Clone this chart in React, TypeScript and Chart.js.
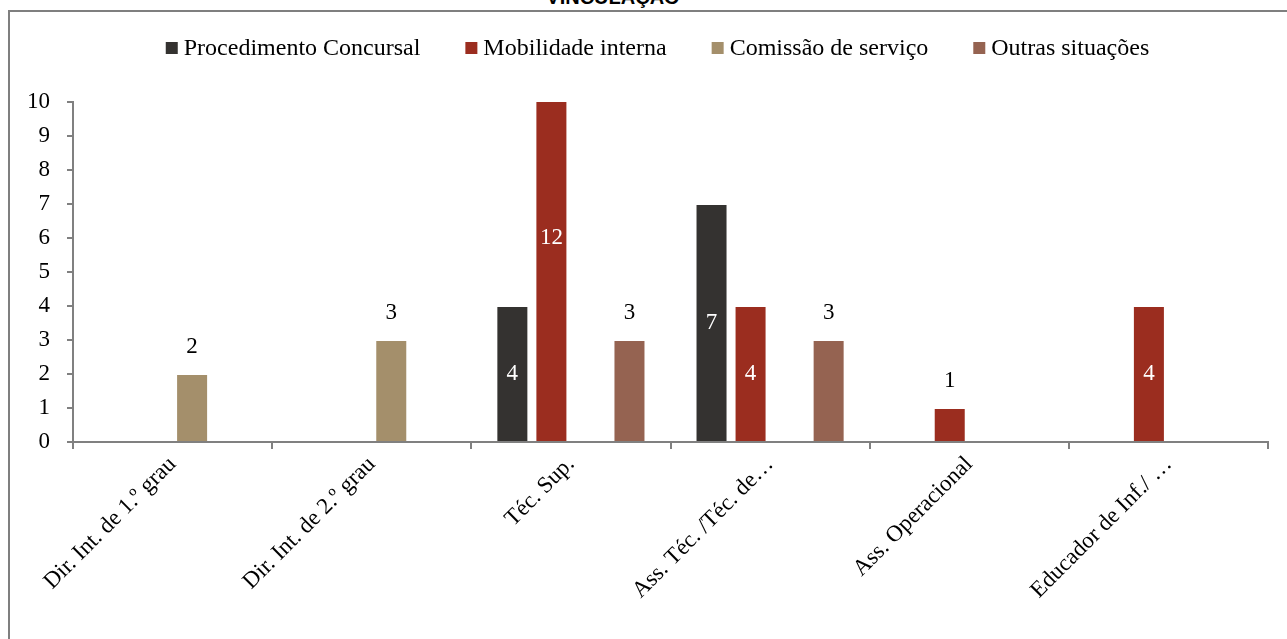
import React, { useEffect, useRef } from "react";
import { Chart, registerables } from "chart.js";

Chart.register(...registerables);

const categories = [
  "Dir. Int. de 1.º grau",
  "Dir. Int. de 2.º grau",
  "Téc. Sup.",
  "Ass. Téc. /Téc. de…",
  "Ass. Operacional",
  "Educador de Inf./ …",
];
const seriesNames = [
  "Procedimento Concursal",
  "Mobilidade interna",
  "Comissão de serviço",
  "Outras situações",
];
const procedimentoConcursal = [0, 0, 4, 7, 0, 0];
const mobilidadeInterna = [0, 0, 12, 4, 1, 4];
const comissaoServico = [2, 3, 0, 0, 0, 0];
const outrasSituacoes = [0, 0, 3, 3, 0, 0];
const yMin = 0;
const yMax = 10;
const yStep = 1;
const titleText = "VINCULAÇÃO";

const seriesValues = [procedimentoConcursal, mobilidadeInterna, comissaoServico, outrasSituacoes];
const seriesColors = ["#343230", "#9B2D1F", "#A48F6B", "#956351"];

const FONT_FAMILY = "'Liberation Serif', 'Times New Roman', serif";
const FONT_SIZE = 23;
const LEGEND_FONT_SIZE = 24;

const legendPlugin = {
  id: "customLegend",
  afterDraw(chart: any) {
    const ctx = chart.ctx;
    ctx.save();
    ctx.font = `${LEGEND_FONT_SIZE}px ${FONT_FAMILY}`;
    const box = 12;
    const gapText = 6;
    const gapItem = 45;
    const widths = chart.data.datasets.map((d: any) => ctx.measureText(d.label).width);
    const total =
      widths.reduce((a: number, w: number) => a + box + gapText + w, 0) +
      gapItem * (widths.length - 1);
    let x = chart.width / 2 + 9 - total / 2;
    const yc = 36;
    chart.data.datasets.forEach((d: any, i: number) => {
      ctx.fillStyle = d.backgroundColor;
      ctx.fillRect(x, yc - box / 2, box, box);
      ctx.fillStyle = "#000";
      ctx.textAlign = "left";
      ctx.textBaseline = "middle";
      ctx.fillText(d.label, x + box + gapText, yc + 1);
      x += box + gapText + widths[i] + gapItem;
    });
    ctx.restore();
  },
};

const labelPlugin = {
  id: "barLabels",
  afterDatasetsDraw(chart: any) {
    const ctx = chart.ctx;
    ctx.save();
    ctx.font = `${FONT_SIZE}px ${FONT_FAMILY}`;
    ctx.textAlign = "center";
    ctx.textBaseline = "middle";
    chart.data.datasets.forEach((d: any, di: number) => {
      const meta = chart.getDatasetMeta(di);
      meta.data.forEach((el: any, i: number) => {
        const v = d.data[i];
        if (v === null || v === undefined || v === 0) return;
        if (v >= 4) {
          ctx.fillStyle = "#ffffff";
          ctx.fillText(String(v), el.x, (el.y + el.base) / 2);
        } else {
          ctx.fillStyle = "#000000";
          ctx.fillText(String(v), el.x, el.y - 27);
        }
      });
    });
    ctx.restore();
  },
};

export default function App() {
  const canvasRef = useRef<HTMLCanvasElement | null>(null);

  useEffect(() => {
    const canvas = canvasRef.current;
    if (!canvas) return;
    const font = { family: FONT_FAMILY, size: FONT_SIZE };
    const chart = new Chart(canvas, {
      type: "bar",
      data: {
        labels: categories,
        datasets: seriesNames.map((name, i) => ({
          label: name,
          data: seriesValues[i].map((v) => (v === 0 ? null : v)),
          backgroundColor: seriesColors[i],
          borderColor: "rgba(255,255,255,0.55)",
          borderWidth: { top: 1, left: 1, right: 1, bottom: 0 },
          categoryPercentage: 0.784,
          barPercentage: 0.82,
        })),
      },
      options: {
        responsive: false,
        animation: false,
        devicePixelRatio: 1,
        layout: { padding: { top: 90, right: 19, left: 0, bottom: 0 } },
        plugins: {
          legend: { display: false },
          title: { display: false },
          tooltip: { enabled: false },
        },
        scales: {
          x: {
            grid: {
              display: true,
              drawOnChartArea: false,
              drawTicks: true,
              tickLength: 7,
              color: "#808080",
              lineWidth: 2,
              offset: true,
            },
            border: { display: true, color: "#808080", width: 2 },
            ticks: {
              font,
              color: "#000",
              minRotation: 45,
              maxRotation: 45,
              autoSkip: false,
              padding: 2,
            },
            afterFit: (s: any) => {
              s.height = 210;
            },
          },
          y: {
            min: yMin,
            max: yMax,
            ticks: { stepSize: yStep, padding: 17, font, color: "#000" },
            grid: {
              drawOnChartArea: false,
              drawTicks: true,
              tickLength: 6,
              color: "#808080",
              lineWidth: 2,
            },
            border: { display: true, color: "#808080", width: 2 },
            afterFit: (s: any) => {
              s.width = 63;
            },
          },
        },
      },
      plugins: [legendPlugin, labelPlugin],
    });
    return () => chart.destroy();
  }, []);

  return (
    <div
      style={{
        position: "fixed",
        left: 0,
        top: 0,
        width: 1287,
        height: 639,
        overflow: "hidden",
        background: "#fff",
      }}
    >
      <div
        style={{
          position: "absolute",
          left: 513,
          width: 200,
          top: -13,
          lineHeight: "20px",
          textAlign: "center",
          fontFamily: "'Liberation Sans', Arial, sans-serif",
          fontWeight: "bold",
          fontSize: 20,
          color: "#000",
        }}
      >
        {titleText}
      </div>
      <div
        style={{
          position: "absolute",
          left: 8,
          top: 10,
          width: 1300,
          height: 700,
          border: "2px solid #7f7f7f",
        }}
      />
      <canvas
        ref={canvasRef}
        width={1277}
        height={640}
        style={{ position: "absolute", left: 10, top: 12, width: 1277, height: 640, display: "block" }}
      />
    </div>
  );
}
